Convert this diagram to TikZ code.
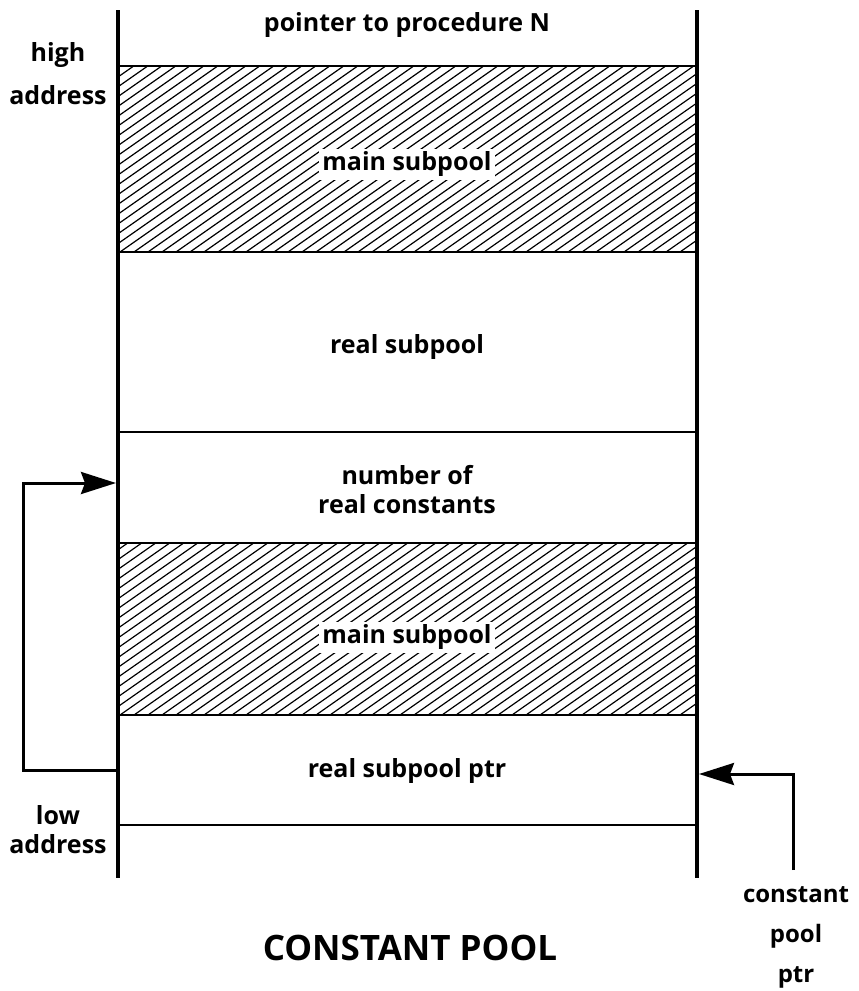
\documentclass[tikz,border=0pt]{standalone}
\usepackage{fontspec}
\setmainfont{Open Sans}
\usetikzlibrary{arrows.meta}

\begin{document}
\begin{tikzpicture}[x=1pt,y=-1pt,
    wall/.style={line width=3.6pt},
    shelf/.style={line width=2.6pt},
    hatchline/.style={line width=1.2pt},
    lbl/.style={font=\fontsize{25}{29}\selectfont\bfseries, inner sep=3pt, align=center},
    ptr/.style={line width=3pt, -{Stealth[length=35pt,width=22pt,inset=4pt]}}]
\useasboundingbox (0,0) rectangle (859,991);

% hatched subpools
\foreach \top/\bot in {66/252,543/715}{
  \begin{scope}
    \clip (118,\top) rectangle (697,\bot);
    \foreach \i in {0,...,62}
      \draw[hatchline] (-160+\i*14,\bot) -- ++(270,-189);
  \end{scope}
}

% walls and cell borders
\draw[wall] (118,10) -- (118,878) (697,10) -- (697,878);
\foreach \y in {66,252,432,543,715,825}
  \draw[shelf] (118,\y) -- (697,\y);

% cells
\node[lbl] (proc) at (407,25) {pointer to procedure N};
\node[lbl, fill=white] (main1) at (407,164) {main subpool};
\node[lbl] (real) at (407,347) {real subpool};
\node[lbl] (nrc) at (407,490) {number of\\real constants};
\node[lbl, fill=white] (main2) at (407,637) {main subpool};
\node[lbl] (rsp) at (407,771) {real subpool ptr};

% side labels
\node[lbl, font=\fontsize{25}{43}\selectfont\bfseries] (high) at (58,74) {high\\address};
\node[lbl, font=\fontsize{25}{29}\selectfont\bfseries] (low) at (58,830) {low\\address};
\node[lbl, font=\fontsize{35}{40}\selectfont\bfseries] (title) at (410,948) {CONSTANT POOL};
\node[lbl, font=\fontsize{24}{40}\selectfont\bfseries] (cpplbl) at (796,937) {constant\\pool\\ptr};

% pointers
\coordinate (rspL) at (118,770);
\coordinate (nrcL) at (116,483);
\coordinate (loopx) at (23,0);
\coordinate (cpp) at (793,870);
\coordinate (rspR) at (699,774);
\draw[ptr] (rspL) -- (rspL -| loopx) |- (nrcL);
\draw[ptr] (cpp) |- (rspR);
\end{tikzpicture}
\end{document}
